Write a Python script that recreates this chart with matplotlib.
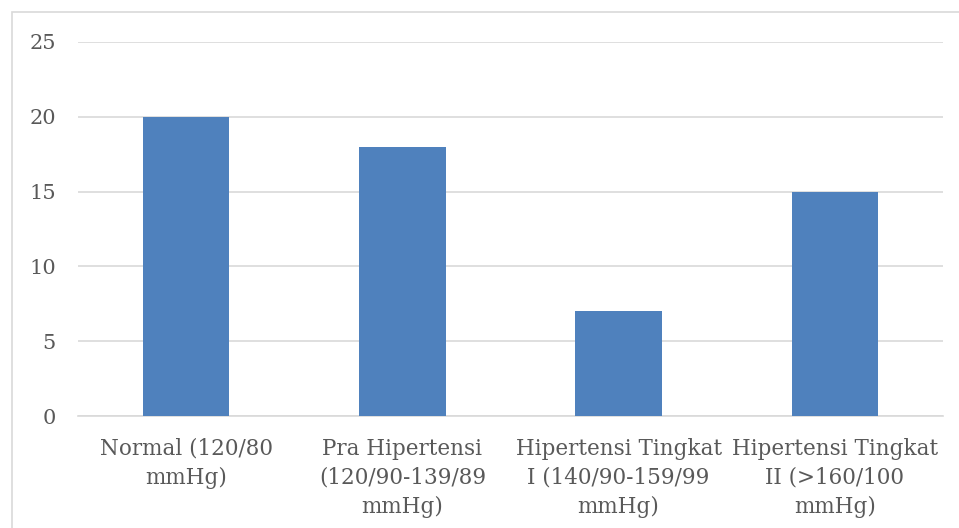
import matplotlib.pyplot as plt
from matplotlib.patches import Rectangle

# data
categories = [
    "Normal (120/80\nmmHg)",
    "Pra Hipertensi\n(120/90-139/89\nmmHg)",
    "Hipertensi Tingkat\nI (140/90-159/99\nmmHg)",
    "Hipertensi Tingkat\nII (>160/100\nmmHg)",
]
values = [20, 18, 7, 15]
yticks = [0, 5, 10, 15, 20, 25]

plt.rcParams['font.family'] = ['DejaVu Serif']

fig = plt.figure(figsize=(9.59, 5.28), dpi=100)
ax = fig.add_axes([78 / 959, 112 / 528, 865 / 959, 374 / 528])

# outer chart border (left and top edges visible)
fig.patches.append(Rectangle((12 / 959, -0.1), 1.2, 1.1 - 12 / 528,
                             transform=fig.transFigure, fill=False,
                             edgecolor='#D9D9D9', linewidth=1.2))

ax.bar(range(len(values)), values, width=0.4, color='#4F81BD', zorder=3)

ax.set_xlim(-0.5, len(values) - 0.5)
ax.set_ylim(0, 25)
ax.set_yticks(yticks)
ax.yaxis.grid(True, color='#D9D9D9', linewidth=1.2)
ax.set_axisbelow(True)

ax.set_xticks(range(len(values)))
ax.set_xticklabels(categories, fontsize=15.5, color='#595959', linespacing=1.42)
ax.tick_params(axis='y', labelsize=15, labelcolor='#595959', length=0, pad=16)
ax.tick_params(axis='x', length=0, pad=15.5)

for s in ['top', 'right', 'left']:
    ax.spines[s].set_visible(False)
ax.spines['bottom'].set_color('#D9D9D9')
ax.spines['bottom'].set_linewidth(1.2)

fig.savefig('out.png', dpi=100)
